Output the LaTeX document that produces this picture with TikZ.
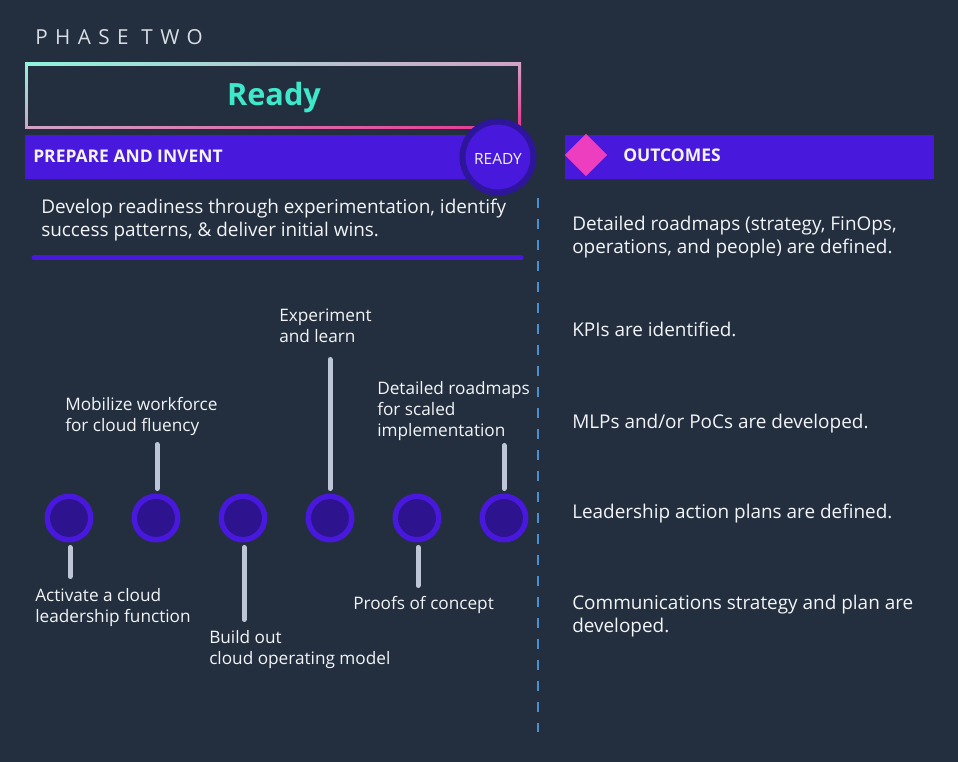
\documentclass[tikz,border=0pt]{standalone}
\usepackage{fontspec}
\setmainfont{Open Sans}
\usetikzlibrary{shapes.geometric,shadings}
\definecolor{bg}{HTML}{232F3E}
\definecolor{purp}{HTML}{4818DC}
\definecolor{darkring}{HTML}{2D1699}
\definecolor{innerdot}{HTML}{2D138E}
\definecolor{stemc}{HTML}{BCC6D6}
\definecolor{teal}{HTML}{3DE8CB}
\definecolor{mint}{HTML}{8FF5DC}
\definecolor{pinkgray}{HTML}{D2A2C4}
\definecolor{hotpink}{HTML}{E8318F}
\definecolor{diam}{HTML}{EE3EC0}
\definecolor{dashc}{HTML}{4A90D0}
\definecolor{txt}{HTML}{F2F4F7}
\definecolor{phasec}{HTML}{D8DEE6}
\tikzset{
  txtnode/.style={anchor=base west, inner sep=0pt, text=txt, align=left,
    font=\fontsize{14.2}{17.25}\selectfont},
  lbl/.style={anchor=base west, inner sep=0pt, text=txt, align=left,
    font=\fontsize{12.9}{15.75}\selectfont},
  dot/.style={circle, draw=purp, fill=innerdot, line width=4.1pt, minimum size=32.6pt, inner sep=0pt},
  stem/.style={draw=stemc, line width=3.75pt, line cap=round},
  barhead/.style={anchor=base west, inner sep=0pt, text=txt, font=\fontsize{13.1}{15}\selectfont\bfseries}
}
\begin{document}
\begin{tikzpicture}[x=0.75pt,y=-0.75pt]
\fill[bg] (0,0) rectangle (958,762);
\useasboundingbox (0,0) rectangle (958,762);

% phase label
\node[anchor=base west, inner sep=0pt, text=phasec, font=\fontsize{15.5}{15.5}\selectfont\addfontfeature{LetterSpace=36}] (phase) at (35,45) {PHASE TWO};

% gradient title box
\shade[upper left=mint, upper right=pinkgray, lower left=pinkgray, lower right=hotpink] (25,63) rectangle (521,129);
\fill[bg] (28,66) rectangle (518,126);
\node[anchor=base, inner sep=0pt, text=teal, font=\fontsize{23}{23}\selectfont\bfseries] (ready) at (274,106) {Ready};

% prepare bar
\fill[purp] (25,135) rectangle (480,179);
\node[barhead] (prep) at (33,163) {PREPARE AND INVENT};
\node[circle, draw=darkring, fill=purp, line width=4.5pt, minimum size=53.25pt, inner sep=0pt] (rc) at (498,157) {};
\node[anchor=base, inner sep=0pt, text=txt, font=\fontsize{11.6}{12}\selectfont] (rtxt) at (498,165) {READY};

% outcomes bar
\fill[purp] (565,135) rectangle (934,179);
\node[diamond, fill=diam, inner sep=0pt, minimum width=32pt, minimum height=32pt] (dm) at (586,155) {};
\node[barhead] (outh) at (623,162) {OUTCOMES};

% description
\node[txtnode] (desc) at (41,237) {Develop readiness through experimentation, identify\\success patterns, \& deliver initial wins.};
\draw[purp, line width=3.75pt, line cap=round] (34,258) -- (521,258);

% dashed divider
\coordinate (dtop) at (538,198);
\coordinate (dbot) at (538,732);
\draw[dashc, line width=1.7pt, dash pattern=on 7.5pt off 8.25pt] (dtop) -- (dbot);

% outcomes
\node[txtnode] (o1) at (572,254) {Detailed roadmaps (strategy, FinOps,\\operations, and people) are defined.};
\node[txtnode] (o2) at (572,337) {KPIs are identified.};
\node[txtnode] (o3) at (572,429) {MLPs and/or PoCs are developed.};
\node[txtnode] (o4) at (572,519) {Leadership action plans are defined.};
\node[txtnode] (o5) at (572,633) {Communications strategy and plan are\\developed.};

% timeline dots
\node[dot] (c1) at (69,518) {};
\node[dot] (c2) at (156,518) {};
\node[dot] (c3) at (243,518) {};
\node[dot] (c4) at (330,518) {};
\node[dot] (c5) at (417,518) {};
\node[dot] (c6) at (504,518) {};

% stem ends
\coordinate (e1) at (70,576.5);
\coordinate (e2) at (157,444.5);
\coordinate (e3) at (244,619.5);
\coordinate (e4) at (330,359.5);
\coordinate (e5) at (418,585.5);
\coordinate (e6) at (504,445.5);

\draw[stem] ([yshift=-3.75pt]c1.south -| e1) -- (e1);
\draw[stem] ([yshift=3.75pt]c2.north -| e2) -- (e2);
\draw[stem] ([yshift=-3.75pt]c3.south -| e3) -- (e3);
\draw[stem] ([yshift=3.75pt]c4.north -| e4) -- (e4);
\draw[stem] ([yshift=-3.75pt]c5.south -| e5) -- (e5);
\draw[stem] ([yshift=3.75pt]c6.north -| e6) -- (e6);

% labels
\node[lbl] (l1) at (35,623) {Activate a cloud\\leadership function};
\node[lbl] (l2) at (65,432) {Mobilize workforce\\for cloud fluency};
\node[lbl] (l3) at (209,665) {Build out\\cloud operating model};
\node[lbl] (l4) at (279,343) {Experiment\\and learn};
\node[lbl] (l5) at (353,610) {Proofs of concept};
\node[lbl] (l6) at (377,437) {Detailed roadmaps\\for scaled\\implementation};
\end{tikzpicture}
\end{document}
